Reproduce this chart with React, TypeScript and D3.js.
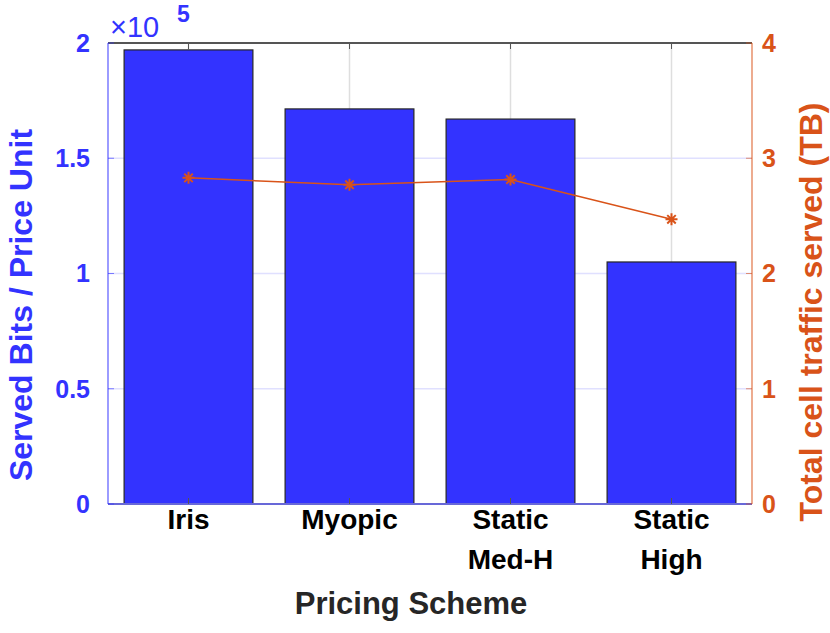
import React from "react";
import * as d3 from "d3";

const width = 830;
const height = 633;
const margin = { top: 43, right: 78, bottom: 129, left: 108 };

const schemes = [["Iris"], ["Myopic"], ["Static", "Med-H"], ["Static", "High"]];
const bitsPerPrice = [1.97, 1.714, 1.67, 1.05]; // x 10^5
const trafficTB = [2.83, 2.77, 2.815, 2.47];
const leftTicks = [0, 0.5, 1, 1.5, 2];
const leftTickLabels = ["0", "0.5", "1", "1.5", "2"];
const rightTicks = [0, 1, 2, 3, 4];

const blue = "#3333ff";
const orange = "#d95319";
const font = "'Liberation Sans', Arial, Helvetica, sans-serif";

export default function App() {
  const x0 = margin.left;
  const x1 = width - margin.right;
  const y0 = height - margin.bottom;
  const y1 = margin.top;

  const x = d3.scaleLinear().domain([0.5, schemes.length + 0.5]).range([x0, x1]);
  const yL = d3.scaleLinear().domain([0, 2]).range([y0, y1]);
  const yR = d3.scaleLinear().domain([0, 4]).range([y0, y1]);
  const barW = (x(2) - x(1)) * 0.8;

  const line = d3
    .line<number>()
    .x((_, i) => x(i + 1))
    .y((d) => yR(d));

  // asterisk marker
  const star = (cx: number, cy: number, r: number) => {
    const parts: string[] = [];
    for (let k = 0; k < 4; k++) {
      const a = (k * Math.PI) / 4;
      const dx = Math.cos(a) * r;
      const dy = Math.sin(a) * r;
      parts.push(`M${cx - dx},${cy - dy}L${cx + dx},${cy + dy}`);
    }
    return parts.join("");
  };

  return (
    <svg width={width} height={height} style={{ display: "block", position: "absolute", left: 0, top: 0 }} fontFamily={font} fontWeight="bold">
      <rect width={width} height={height} fill="#fff" />
      {/* grid */}
      {leftTicks.slice(1, -1).map((t) => (
        <line key={"h" + t} x1={x0} x2={x1} y1={yL(t)} y2={yL(t)} stroke="#e0e0ff" strokeWidth={1.5} />
      ))}
      {schemes.map((_, i) => (
        <line key={"v" + i} x1={x(i + 1)} x2={x(i + 1)} y1={y1} y2={y0} stroke="#dedede" strokeWidth={1.5} />
      ))}
      {/* bars */}
      {bitsPerPrice.map((v, i) => (
        <rect
          key={"b" + i}
          x={x(i + 1) - barW / 2}
          y={yL(v)}
          width={barW}
          height={y0 - yL(v)}
          fill={blue}
          stroke="#262626"
          strokeWidth={1.2}
        />
      ))}
      {/* frame */}
      <line x1={x0} x2={x1} y1={y1} y2={y1} stroke="#555" strokeWidth={1.8} />
      <line x1={x0} x2={x1} y1={y0} y2={y0} stroke="#6868d8" strokeWidth={1.8} />
      {schemes.map((_, i) => (
        <g key={"t" + i}>
          <line x1={x(i + 1)} x2={x(i + 1)} y1={y1} y2={y1 + 6} stroke="#555" />
          <line x1={x(i + 1)} x2={x(i + 1)} y1={y0} y2={y0 - 6} stroke="#555" />
        </g>
      ))}
      <line x1={x0} x2={x0} y1={y1} y2={y0} stroke={blue} strokeOpacity={0.75} strokeWidth={1.3} />
      <line x1={x1} x2={x1} y1={y1} y2={y0} stroke={orange} strokeOpacity={0.75} strokeWidth={1.3} />
      {leftTicks.map((t) => (
        <line key={"lt" + t} x1={x0} x2={x0 + 6} y1={yL(t)} y2={yL(t)} stroke={blue} strokeOpacity={0.6} />
      ))}
      {rightTicks.map((t) => (
        <line key={"rt" + t} x1={x1} x2={x1 - 6} y1={yR(t)} y2={yR(t)} stroke={orange} strokeOpacity={0.6} />
      ))}
      {/* line series */}
      <path d={line(trafficTB) || ""} fill="none" stroke={orange} strokeWidth={1.5} />
      {trafficTB.map((v, i) => (
        <path key={"m" + i} d={star(x(i + 1), yR(v), 6)} stroke={orange} strokeWidth={2} />
      ))}
      {/* left tick labels */}
      {leftTicks.map((t, i) => (
        <text key={"ll" + t} x={x0 - 18} y={yL(t)} dy="0.35em" textAnchor="end" fill={blue} fontSize={25}>
          {leftTickLabels[i]}
        </text>
      ))}
      {rightTicks.map((t) => (
        <text key={"rl" + t} x={x1 + 10} y={yR(t)} dy="0.35em" textAnchor="start" fill={orange} fontSize={25}>
          {t}
        </text>
      ))}
      <text x={110} y={37} fill={blue} fontSize={29} fontWeight="normal">
        ×10
      </text>
      <text x={177} y={22} fill={blue} fontSize={23}>
        5
      </text>
      {/* category labels */}
      {schemes.map((lines, i) => (
        <text key={"c" + i} textAnchor="middle" fill="#000" fontSize={28}>
          {lines.map((s, j) => (
            <tspan key={j} x={x(i + 1)} y={y0 + 25 + j * 40}>
              {s}
            </tspan>
          ))}
        </text>
      ))}
      <text x={411} y={614} textAnchor="middle" fill="#262626" fontSize={31}>
        Pricing Scheme
      </text>
      <text transform={`translate(32,305) rotate(-90)`} textAnchor="middle" fill={blue} fontSize={32}>
        Served Bits / Price Unit
      </text>
      <text transform={`translate(822,312) rotate(-90)`} textAnchor="middle" fill={orange} fontSize={32}>
        Total cell traffic served (TB)
      </text>
    </svg>
  );
}
